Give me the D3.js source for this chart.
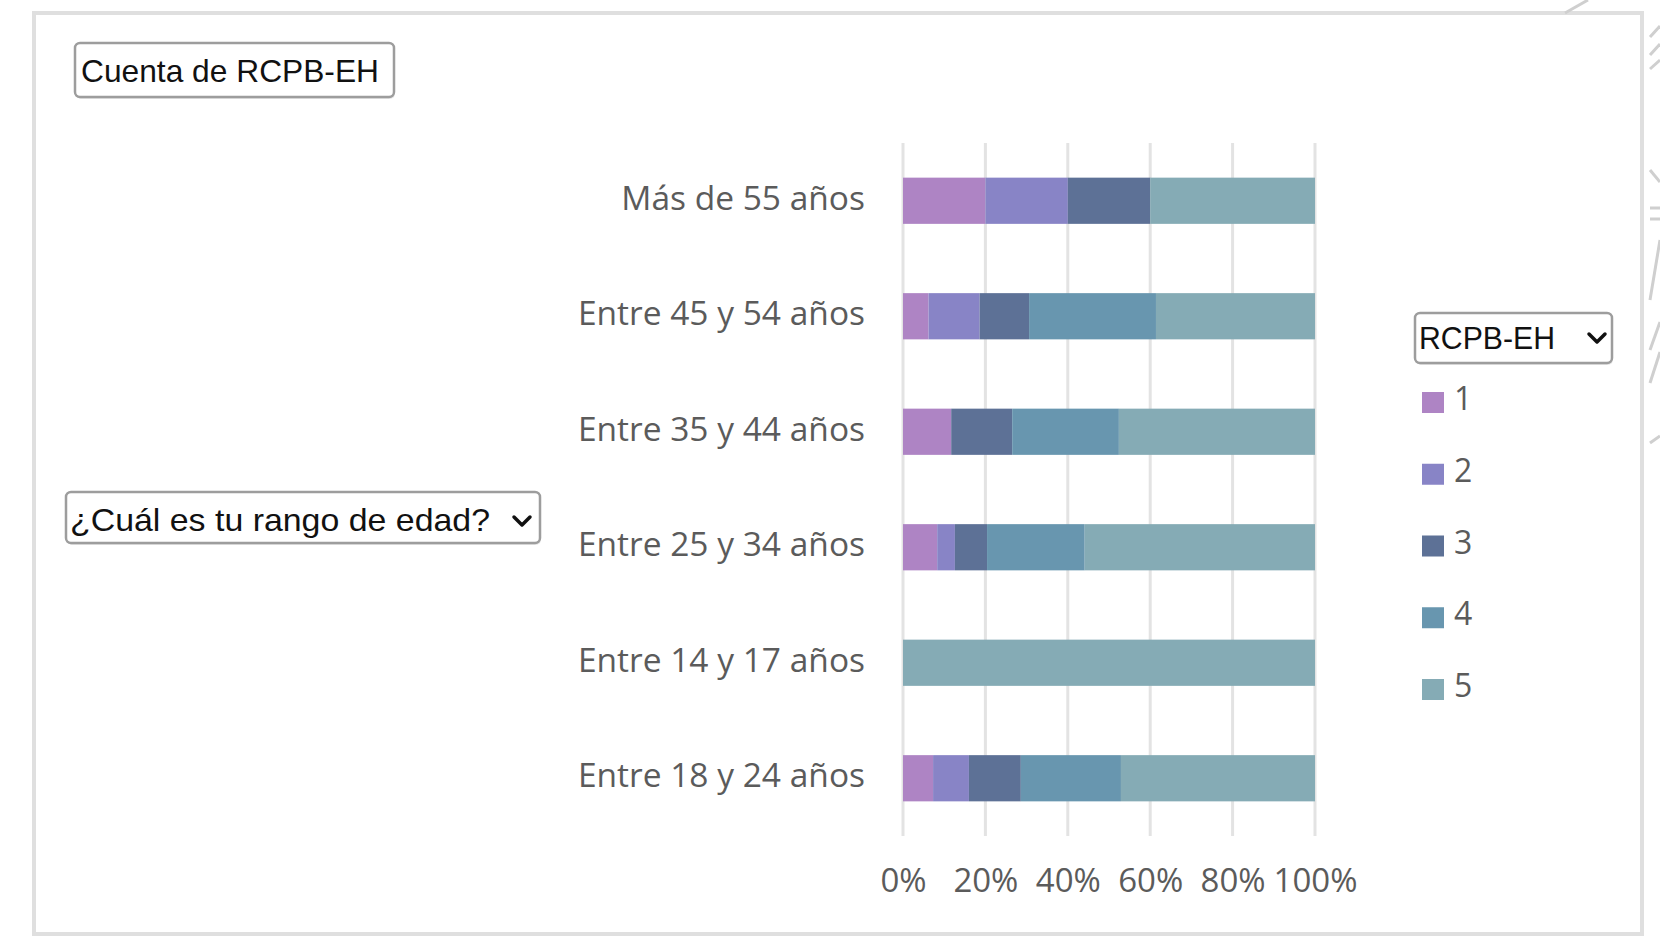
<!DOCTYPE html>
<html>
<head>
<meta charset="utf-8">
<script src="https://cdn.jsdelivr.net/npm/d3@7/dist/d3.min.js"></script>
<style>
  html, body { margin: 0; padding: 0; background: #ffffff; }
  svg { display: block; }
</style>
</head>
<body>
<svg id="chart" width="1660" height="936"></svg>
<script>
// Age groups, top to bottom
const categories = [
  "Más de 55 años",
  "Entre 45 y 54 años",
  "Entre 35 y 44 años",
  "Entre 25 y 34 años",
  "Entre 14 y 17 años",
  "Entre 18 y 24 años"
];

// RCPB-EH answer levels (legend)
const seriesKeys = ["1", "2", "3", "4", "5"];

// Share of answers per age group (% of row)
const values1 = [20, 6.2, 11.7, 8.3, 0, 7.3];
const values2 = [20, 12.4, 0, 4.3, 0, 8.7];
const values3 = [20, 12.0, 14.8, 7.8, 0, 12.6];
const values4 = [0, 30.8, 25.9, 23.7, 0, 24.3];
const values5 = [40, 38.6, 47.6, 55.9, 100, 47.1];

const tickValues = [0, 20, 40, 60, 80, 100];
const tickLabels = ["0%", "20%", "40%", "60%", "80%", "100%"];

const colors = ["#ae84c4", "#8884c6", "#5d7196", "#6896af", "#85abb5"];

const svg = d3.select("#chart");
const textFont = "'Open Sans', 'Noto Sans', sans-serif";
const boxFont = "'Liberation Sans', Arial, sans-serif";

// Outer frame
svg.append("rect")
  .attr("x", 34).attr("y", 13)
  .attr("width", 1608).attr("height", 921)
  .attr("fill", "#ffffff")
  .attr("stroke", "#dfdfdf").attr("stroke-width", 4);

// Faint decorative strokes beside the frame
const deco = [
  [1565, 13, 1588, 0],
  [1650, 37, 1660, 26],
  [1650, 55, 1660, 44],
  [1650, 69, 1660, 60],
  [1650, 170, 1660, 182],
  [1650, 208, 1660, 208],
  [1650, 219, 1660, 219],
  [1650, 300, 1660, 240],
  [1650, 350, 1660, 322],
  [1650, 383, 1660, 352],
  [1650, 443, 1660, 436]
];
svg.append("g").selectAll("line").data(deco).join("line")
  .attr("x1", d => d[0]).attr("y1", d => d[1])
  .attr("x2", d => d[2]).attr("y2", d => d[3])
  .attr("stroke", "#cfcfcf").attr("stroke-width", 3);

// Scales
const x = d3.scaleLinear().domain([0, 100]).range([903, 1315]);
const y = d3.scaleBand().domain(categories).range([143, 836])
  .paddingInner(0.6).paddingOuter(0.3);

// Vertical gridlines
svg.append("g").selectAll("line").data(tickValues).join("line")
  .attr("x1", d => x(d)).attr("x2", d => x(d))
  .attr("y1", 143).attr("y2", 836)
  .attr("stroke", "#e3e3e3").attr("stroke-width", 3);

// Stacked bars
const table = categories.map((c, i) => ({
  cat: c,
  "1": values1[i], "2": values2[i], "3": values3[i], "4": values4[i], "5": values5[i]
}));
const stacked = d3.stack().keys(seriesKeys)(table);

svg.append("g").selectAll("g").data(stacked).join("g")
  .attr("fill", (d, i) => colors[i])
  .selectAll("rect").data(d => d).join("rect")
  .attr("x", d => x(d[0]))
  .attr("width", d => Math.max(0, x(d[1]) - x(d[0])))
  .attr("y", d => y(d.data.cat))
  .attr("height", y.bandwidth());

// Category labels
svg.append("g").selectAll("text").data(categories).join("text")
  .attr("x", 865)
  .attr("y", d => y(d) + y.bandwidth() / 2 + 9)
  .attr("text-anchor", "end")
  .attr("font-family", textFont)
  .attr("font-size", 33.5)
  .attr("fill", "#5b5b5b")
  .text(d => d);

// Percentage axis
const xAxis = d3.axisBottom(x)
  .tickValues(tickValues)
  .tickFormat((d, i) => tickLabels[i])
  .tickSize(0).tickPadding(0);
const axisG = svg.append("g").attr("transform", "translate(0,869)").call(xAxis);
axisG.select(".domain").remove();
axisG.selectAll("text")
  .attr("font-family", textFont)
  .attr("font-size", 33)
  .attr("fill", "#5b5b5b")
  .attr("dy", "0.71em");

// Field buttons
function fieldButton(bx, by, bw, bh, label, tx, ty, tlen, chevron) {
  const g = svg.append("g");
  g.append("rect")
    .attr("x", bx + 1).attr("y", by + 2)
    .attr("width", bw).attr("height", bh).attr("rx", 5)
    .attr("fill", "#e9e9e9");
  g.append("rect")
    .attr("x", bx).attr("y", by)
    .attr("width", bw).attr("height", bh).attr("rx", 5)
    .attr("fill", "#ffffff")
    .attr("stroke", "#9d9d9d").attr("stroke-width", 2.5);
  g.append("text")
    .attr("x", tx).attr("y", ty)
    .attr("font-family", boxFont)
    .attr("font-size", 32)
    .attr("fill", "#111111")
    .attr("textLength", tlen)
    .attr("lengthAdjust", "spacingAndGlyphs")
    .text(label);
  if (chevron) {
    const [cx, cy] = chevron;
    g.append("path")
      .attr("d", `M${cx - 8},${cy - 4} L${cx},${cy + 4} L${cx + 8},${cy - 4}`)
      .attr("fill", "none")
      .attr("stroke", "#111111").attr("stroke-width", 3.5)
      .attr("stroke-linecap", "round").attr("stroke-linejoin", "round");
  }
}

fieldButton(75, 43, 319, 54, "Cuenta de RCPB-EH", 81, 82, 298, null);
fieldButton(66, 492, 474, 51, "¿Cuál es tu rango de edad?", 70, 531, 420, [522, 521]);
fieldButton(1415, 313, 197, 50, "RCPB-EH", 1419, 349, 136, [1597, 338]);

// Legend
const legendY = d3.scalePoint().domain(seriesKeys).range([402, 689]);
const legend = svg.append("g").selectAll("g").data(seriesKeys).join("g")
  .attr("transform", d => `translate(1422,${legendY(d)})`);
legend.append("rect")
  .attr("x", 0).attr("y", -10)
  .attr("width", 22).attr("height", 21)
  .attr("fill", (d, i) => colors[i]);
legend.append("text")
  .attr("x", 32).attr("y", 8)
  .attr("font-family", textFont)
  .attr("font-size", 32)
  .attr("fill", "#5b5b5b")
  .text(d => d);
</script>
</body>
</html>
